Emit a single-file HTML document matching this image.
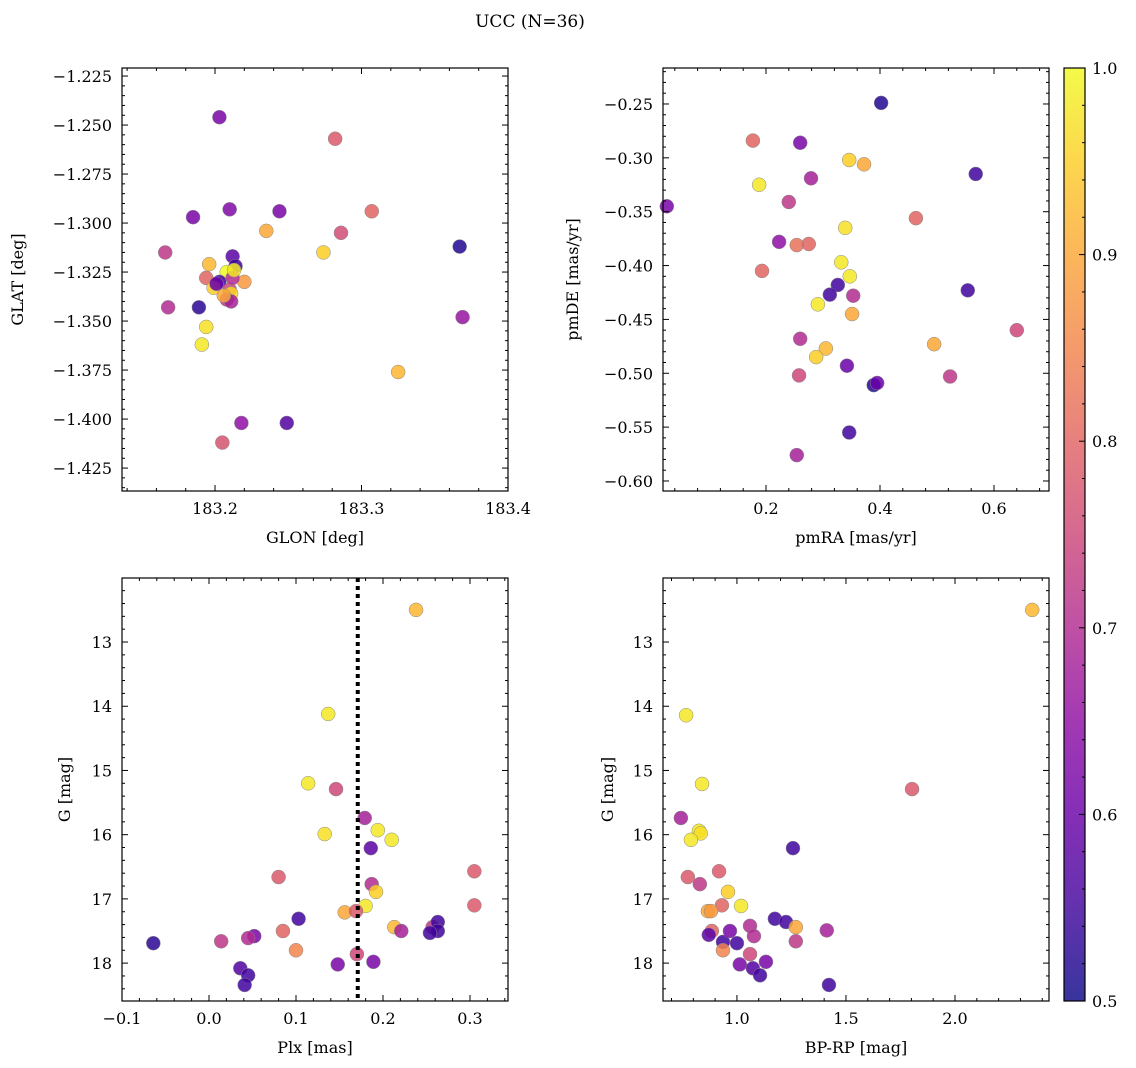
<!DOCTYPE html>
<html><head><meta charset="utf-8"><style>
html,body{margin:0;padding:0;background:#fff;}
svg{display:block;font-family:"DejaVu Serif","Liberation Serif",serif;}
</style></head><body>
<svg id="fig" width="1136" height="1068" viewBox="0 0 1136 1068" xmlns="http://www.w3.org/2000/svg">
<text x="530" y="27" font-size="17" text-anchor="middle">UCC (N=36)</text>
</svg>
<script>
// ---- data ----
const glon=[183.203,183.282,183.185,183.210,183.244,183.235,183.286,183.307,183.367,183.274,183.166,183.212,183.196,183.214,183.208,183.194,183.203,183.220,183.199,183.210,183.211,183.168,183.189,183.208,183.211,183.369,183.194,183.191,183.325,183.218,183.249,183.205,183.212,183.201,183.213,183.206];
const glat=[-1.246,-1.257,-1.297,-1.293,-1.294,-1.304,-1.305,-1.294,-1.312,-1.315,-1.315,-1.317,-1.321,-1.322,-1.325,-1.328,-1.330,-1.330,-1.333,-1.334,-1.336,-1.343,-1.343,-1.339,-1.340,-1.348,-1.353,-1.362,-1.376,-1.402,-1.402,-1.412,-1.328,-1.331,-1.324,-1.337];
const probA=[0.62,0.78,0.62,0.63,0.62,0.9,0.76,0.8,0.52,0.95,0.72,0.58,0.92,0.55,1.0,0.8,0.55,0.88,0.95,0.75,0.96,0.7,0.53,0.72,0.68,0.66,0.97,0.98,0.92,0.65,0.57,0.77,0.7,0.6,0.98,0.9];
const pmra=[0.402,0.177,0.260,0.346,0.372,0.568,0.279,0.188,0.026,0.240,0.463,0.339,0.223,0.254,0.275,0.332,0.193,0.347,0.326,0.312,0.353,0.554,0.291,0.351,0.640,0.260,0.495,0.305,0.288,0.342,0.523,0.258,0.389,0.395,0.346,0.254];
const pmde=[-0.249,-0.284,-0.286,-0.302,-0.306,-0.315,-0.319,-0.325,-0.345,-0.341,-0.356,-0.365,-0.378,-0.381,-0.380,-0.397,-0.405,-0.410,-0.418,-0.427,-0.428,-0.423,-0.436,-0.445,-0.460,-0.468,-0.473,-0.477,-0.485,-0.493,-0.503,-0.502,-0.511,-0.509,-0.555,-0.576];
const probB=[0.52,0.8,0.62,0.95,0.9,0.55,0.68,0.98,0.62,0.72,0.8,0.97,0.65,0.82,0.8,0.98,0.8,0.98,0.55,0.55,0.7,0.55,0.98,0.9,0.75,0.7,0.9,0.92,0.95,0.6,0.72,0.75,0.52,0.6,0.55,0.68];
const plx=[0.238,0.137,0.114,0.146,0.133,0.179,0.194,0.210,0.186,0.080,0.305,0.187,0.192,0.180,0.305,0.156,0.169,0.103,0.213,0.221,0.257,0.263,0.263,0.254,0.085,0.052,0.045,0.014,-0.064,0.100,0.170,0.148,0.189,0.036,0.045,0.041];
const gmagC=[12.50,14.12,15.20,15.29,15.99,15.74,15.93,16.08,16.21,16.66,16.57,16.77,16.89,17.11,17.10,17.21,17.19,17.31,17.44,17.50,17.44,17.36,17.50,17.53,17.50,17.58,17.61,17.66,17.69,17.80,17.86,18.02,17.98,18.08,18.19,18.34];
const probC=[0.92,0.98,0.98,0.75,0.97,0.68,0.98,0.98,0.58,0.78,0.78,0.7,0.95,0.98,0.78,0.9,0.78,0.55,0.92,0.68,0.72,0.55,0.55,0.55,0.8,0.62,0.7,0.72,0.53,0.85,0.75,0.62,0.62,0.57,0.55,0.55];
const bprp=[2.354,0.767,0.840,1.803,0.743,1.257,0.826,0.834,0.789,0.918,0.775,0.830,0.959,0.931,1.019,0.867,0.881,1.174,1.225,1.270,1.060,1.412,0.885,0.871,0.936,0.968,1.078,1.270,1.000,0.936,1.060,1.013,1.133,1.073,1.106,1.422];
const gmagD=[12.50,14.14,15.21,15.29,15.74,16.21,15.94,15.98,16.08,16.57,16.66,16.77,16.89,17.10,17.11,17.19,17.19,17.31,17.36,17.44,17.42,17.49,17.50,17.56,17.67,17.50,17.58,17.66,17.69,17.80,17.86,18.02,17.98,18.08,18.19,18.34];
const probD=[0.92,0.98,0.98,0.78,0.68,0.55,0.98,0.97,0.98,0.78,0.78,0.72,0.95,0.8,0.98,0.9,0.88,0.55,0.55,0.9,0.7,0.68,0.8,0.58,0.55,0.62,0.7,0.72,0.55,0.85,0.75,0.62,0.62,0.57,0.55,0.55];
const plxLine=[0.171];
const ticksA_x=[183.2,183.3,183.4], ticksA_y=[-1.225,-1.25,-1.275,-1.3,-1.325,-1.35,-1.375,-1.4,-1.425];
const ticksB_x=[0.2,0.4,0.6], ticksB_y=[-0.25,-0.3,-0.35,-0.4,-0.45,-0.5,-0.55,-0.6];
const ticksC_x=[-0.1,0,0.1,0.2,0.3], ticksG=[13,14,15,16,17,18];
const ticksD_x=[1.0,1.5,2.0];
const cbTicks=[0.5,0.6,0.7,0.8,0.9,1.0];

const NS='http://www.w3.org/2000/svg';
const svg=document.getElementById('fig');
function mk(tag,attrs,parent){const e=document.createElementNS(NS,tag);for(const k in attrs)e.setAttribute(k,attrs[k]);(parent||svg).appendChild(e);return e;}
const stops=['#0d0887','#41049d','#6a00a8','#8f0da4','#b12a90','#cc4778','#e16462','#f2844b','#fca636','#fcce25','#f0f921'];
function hex(h){return [1,3,5].map(i=>parseInt(h.substr(i,2),16));}
function plasma(p){let t=Math.max(0,Math.min(1,(p-0.5)/0.5))*10;const i=Math.min(9,Math.floor(t));const f=t-i;const a=hex(stops[i]),b=hex(stops[i+1]);return 'rgb('+a.map((v,k)=>Math.round(v+(b[k]-v)*f)).join(',')+')';}
function fmt(v,d){return (v<0?'\u2212':'')+Math.abs(v).toFixed(d);}

function panel(o){
  const g=mk('g',{});
  
  
  const sx=v=>o.x0+(v-o.xmin)/(o.xmax-o.xmin)*(o.x1-o.x0);
  const sy=o.invert?(v=>o.y0+(v-o.ymin)/(o.ymax-o.ymin)*(o.y1-o.y0)):(v=>o.y1-(v-o.ymin)/(o.ymax-o.ymin)*(o.y1-o.y0));
  const pg=mk('g',{},g);
  for(let i=0;i<o.xs.length;i++){
    const c=mk('circle',{cx:sx(o.xs[i]),cy:sy(o.ys[i]),r:7,fill:plasma(o.ps[i]),'fill-opacity':0.85,stroke:'#888','stroke-width':0.5},pg);
    
    
  }
  if(o.vline){const l=mk('line',{x1:sx(o.vline[0]),x2:sx(o.vline[0]),y1:o.y0,y2:o.y1,stroke:'#000','stroke-width':4,'stroke-dasharray':'4,4'},g);
    }
  mk('rect',{x:o.x0,y:o.y0,width:o.x1-o.x0,height:o.y1-o.y0,fill:'none',stroke:'#000','stroke-width':1.2},g);
  const xstep=o.xt[1]-o.xt[0];
  for(let k=-5;k<=o.xt.length*5+10;k++){const v=o.xt[0]+k*xstep/5;if(v<o.xmin-1e-9||v>o.xmax+1e-9)continue;const X=sx(v);const L=(k%5===0)?6:3;
    mk('line',{x1:X,x2:X,y1:o.y1,y2:o.y1-L,stroke:'#000'},g);mk('line',{x1:X,x2:X,y1:o.y0,y2:o.y0+L,stroke:'#000'},g);}
  o.xt.forEach(v=>{const t=mk('text',{x:sx(v),y:o.y1+23,'font-size':16,'text-anchor':'middle'},g);t.textContent=fmt(v,o.xd);
    });
  const ystep=o.yt[1]-o.yt[0];
  for(let k=-5;k<=o.yt.length*5+5;k++){const v=o.yt[0]+k*ystep/5;const lo=Math.min(o.ymin,o.ymax),hi=Math.max(o.ymin,o.ymax);if(v<lo-1e-9||v>hi+1e-9)continue;const Y=sy(v);const L=(k%5===0)?6:3;
    mk('line',{x1:o.x0,x2:o.x0+L,y1:Y,y2:Y,stroke:'#000'},g);mk('line',{x1:o.x1,x2:o.x1-L,y1:Y,y2:Y,stroke:'#000'},g);}
  o.yt.forEach(v=>{const t=mk('text',{x:o.x0-10,y:sy(v)+6,'font-size':16,'text-anchor':'end'},g);t.textContent=fmt(v,o.yd);
    });
  const xl=mk('text',{x:(o.x0+o.x1)/2,y:o.y1+52,'font-size':16,'text-anchor':'middle'},g);xl.textContent=o.xlabel;
  
  const yx=o.ylx,yy=(o.y0+o.y1)/2;
  const yl=mk('text',{x:yx,y:yy,'font-size':16,'text-anchor':'middle',transform:'rotate(-90 '+yx+' '+yy+')'},g);yl.textContent=o.ylabel;
  
}
panel({name:'glon-glat-panel',x0:122,x1:508,y0:68,y1:491,xmin:183.1365,xmax:183.4,ymin:-1.4367,ymax:-1.2209,xs:glon,ys:glat,ps:probA,xt:ticksA_x,yt:ticksA_y,xd:1,yd:3,xlabel:'GLON [deg]',ylabel:'GLAT [deg]',ylx:23});
panel({name:'pm-panel',x0:663,x1:1049,y0:68,y1:491,xmin:0.0193,xmax:0.6965,ymin:-0.6093,ymax:-0.2166,xs:pmra,ys:pmde,ps:probB,xt:ticksB_x,yt:ticksB_y,xd:1,yd:2,xlabel:'pmRA [mas/yr]',ylabel:'pmDE [mas/yr]',ylx:578});
panel({name:'plx-g-panel',x0:122,x1:508,y0:578,y1:1001,xmin:-0.1,xmax:0.3437,ymin:12.003,ymax:18.59,invert:true,xs:plx,ys:gmagC,ps:probC,xt:ticksC_x,yt:ticksG,xd:1,yd:0,xlabel:'Plx [mas]',ylabel:'G [mag]',ylx:70,vline:plxLine});
panel({name:'cmd-panel',x0:663,x1:1049,y0:578,y1:1001,xmin:0.661,xmax:2.431,ymin:12.003,ymax:18.59,invert:true,xs:bprp,ys:gmagD,ps:probD,xt:ticksD_x,yt:ticksG,xd:1,yd:0,xlabel:'BP-RP [mag]',ylabel:'G [mag]',ylx:613});

const cb=mk('g',{});


const defs=mk('defs',{},cb);
const lg=mk('linearGradient',{id:'pl',x1:0,y1:1,x2:0,y2:0},defs);
stops.forEach((s,i)=>mk('stop',{offset:i/10,'stop-color':s},lg));
const cy0=68,cy1=1001,cx0=1064,cx1=1085;
mk('rect',{x:cx0,y:cy0,width:cx1-cx0,height:cy1-cy0,fill:'url(#pl)','fill-opacity':0.82},cb);
mk('rect',{x:cx0,y:cy0,width:cx1-cx0,height:cy1-cy0,fill:'none',stroke:'#000','stroke-width':1.2},cb);
const cys=v=>cy1-(v-0.5)/0.5*(cy1-cy0);
for(let k=0;k<=25;k++){const v=0.5+k*0.02;const Y=cys(v);const L=k%5===0?6:3;mk('line',{x1:cx1,x2:cx1-L,y1:Y,y2:Y,stroke:'#000'},cb);}
cbTicks.forEach(v=>{const t=mk('text',{x:cx1+7,y:cys(v)+6,'font-size':16},cb);t.textContent=v.toFixed(1);
  });
</script>
</body></html>
